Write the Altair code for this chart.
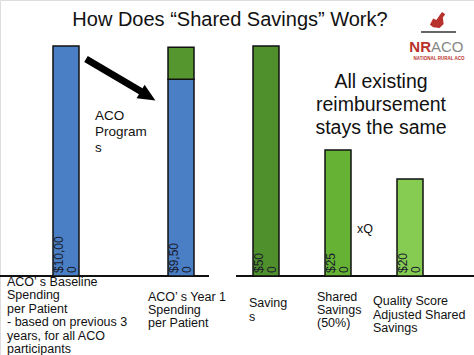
import altair as alt
import pandas as pd

FONT = "Liberation Sans"

# ---- data ----
left_cats = ["Baseline", "Year 1"]
left_parts = ["Spending", "Spending", "Savings part"]
left_bar_cat = ["Baseline", "Year 1", "Year 1"]
left_values = [10000, 8550, 1400]
left_labels = ["$10,00\n0", "$9,50\n0"]

right_cats = ["Savings", "Shared", "Quality"]
right_values = [500, 274, 211]
right_labels = ["$50\n0", "$25\n0", "$20\n0"]

color_domain = ["Spending", "Savings part", "Savings", "Shared", "Quality"]
color_range = ["#4a7fc5", "#55962e", "#4f8f2c", "#65b234", "#86cc52"]

left_df = pd.DataFrame({"cat": left_bar_cat, "part": left_parts, "value": left_values,
                        "ord": [0, 0, 1]})
left_lab_df = pd.DataFrame({"cat": left_cats, "label": left_labels})
right_df = pd.DataFrame({"cat": right_cats, "part": right_cats, "value": right_values,
                         "label": right_labels})

xl = alt.Scale(type="band", domain=left_cats, range=[53, 194], paddingInner=0.774, paddingOuter=0)
yl = alt.Scale(domain=[0, 12000], range=[276, 0])
xr = alt.Scale(type="band", domain=right_cats, range=[253, 423], paddingInner=0.639, paddingOuter=0)
yr = alt.Scale(domain=[0, 600], range=[276, 0])
cs = alt.Scale(domain=color_domain, range=color_range)

left_bars = alt.Chart(left_df).mark_bar(stroke="#111", strokeWidth=1.5).encode(
    x=alt.X("cat:N", scale=xl, axis=None),
    y=alt.Y("value:Q", stack="zero", scale=yl, axis=None),
    color=alt.Color("part:N", scale=cs, legend=None),
    order=alt.Order("ord:Q"),
)
left_text = alt.Chart(left_lab_df).mark_text(
    angle=270, align="left", baseline="middle", lineBreak="\n", lineHeight=13,
    fontSize=12, font=FONT, color="#1a1a2a", dy=-7
).encode(x=alt.X("cat:N", scale=xl, axis=None), y=alt.value(273), text="label:N")

right_bars = alt.Chart(right_df).mark_bar(stroke="#111", strokeWidth=1.5).encode(
    x=alt.X("cat:N", scale=xr, axis=None),
    y=alt.Y("value:Q", scale=yr, axis=None),
    color=alt.Color("part:N", scale=cs, legend=None),
)
right_text = alt.Chart(right_df).mark_text(
    angle=270, align="left", baseline="middle", lineBreak="\n", lineHeight=13,
    fontSize=12, font=FONT, color="#1a1a2a", dy=-7
).encode(x=alt.X("cat:N", scale=xr, axis=None), y=alt.value(273), text="label:N")

one = pd.DataFrame({"a": [0]})

def txt(s, x, y, size, align="left", color="#111", weight="normal", lh=None):
    kw = dict(align=align, baseline="middle", fontSize=size, font=FONT, color=color,
              fontWeight=weight, lineBreak="\n")
    if lh:
        kw["lineHeight"] = lh
    return alt.Chart(one).mark_text(**kw).encode(x=alt.value(x), y=alt.value(y),
                                                  text=alt.value(s))

axis_l = alt.Chart(one).mark_rule(color="#111", strokeWidth=2).encode(
    x=alt.value(0), x2=alt.value(209), y=alt.value(276))
axis_r = alt.Chart(one).mark_rule(color="#111", strokeWidth=2).encode(
    x=alt.value(236), x2=alt.value(474), y=alt.value(276))

arrow_line = alt.Chart(one).mark_rule(color="#000", strokeWidth=7).encode(
    x=alt.value(86), x2=alt.value(142), y=alt.value(59), y2=alt.value(92))
arrow_head = alt.Chart(one).mark_point(
    shape="M-1,-0.9L1,0L-1,0.9Z", filled=True, color="#000", opacity=1, angle=31, size=300
).encode(x=alt.value(148), y=alt.value(96))

rooster = alt.Chart(one).mark_point(
    shape="M-1,0.6L-0.6,-0.2L-0.2,0L0.2,-0.6L0.5,-1L0.9,-0.7L0.6,-0.3L0.7,0.5L0.2,1L-0.6,0.9Z",
    filled=True, color="#b8322c", opacity=1, size=260
).encode(x=alt.value(438), y=alt.value(20))
vane = alt.Chart(one).mark_rule(color="#333", strokeWidth=1.5).encode(
    x=alt.value(421), x2=alt.value(456), y=alt.value(32))

layers = [
    axis_l, axis_r, left_bars, right_bars, left_text, right_text,
    arrow_line, arrow_head,
    txt("How Does “Shared Savings” Work?", 230, 20, 20, align="center"),
    txt("ACO\nProgram\ns", 95, 116, 13.5, lh=16),
    txt("All existing\nreimbursement\nstays the same", 381, 82, 19.5, align="center", lh=23),
    txt("xQ", 357, 229, 12.5),
    txt("ACO’ s Baseline\nSpending\nper Patient\n- based on previous 3\nyears, for all ACO\nparticipants",
        7, 282, 12.5, lh=13.4),
    txt("ACO’ s Year 1\nSpending\nper Patient", 148, 297, 12.5, lh=13.2),
    txt("Saving\ns", 249, 303, 12.5, lh=14),
    txt("Shared\nSavings\n(50%)", 317, 297, 12.5, lh=13.2),
    txt("Quality Score\nAdjusted Shared\nSavings", 373, 301, 12.5, lh=13.5),
    rooster, vane,
    txt("NR", 431, 47, 15, align="right", color="#b8322c", weight="bold"),
    txt("ACO", 431, 47, 15, color="#888"),
    txt("NATIONAL RURAL ACO", 439, 58.5, 4.5, align="center", color="#b8322c", weight="bold"),
]

chart = alt.layer(*layers).resolve_scale(
    x="independent", y="independent"
).properties(
    width=474, height=355, autosize=alt.AutoSizeParams(type="none"), padding=0
).configure_view(stroke=None).configure(background="white")

chart.save("out.html", embed_options={"renderer": "svg", "actions": False})
